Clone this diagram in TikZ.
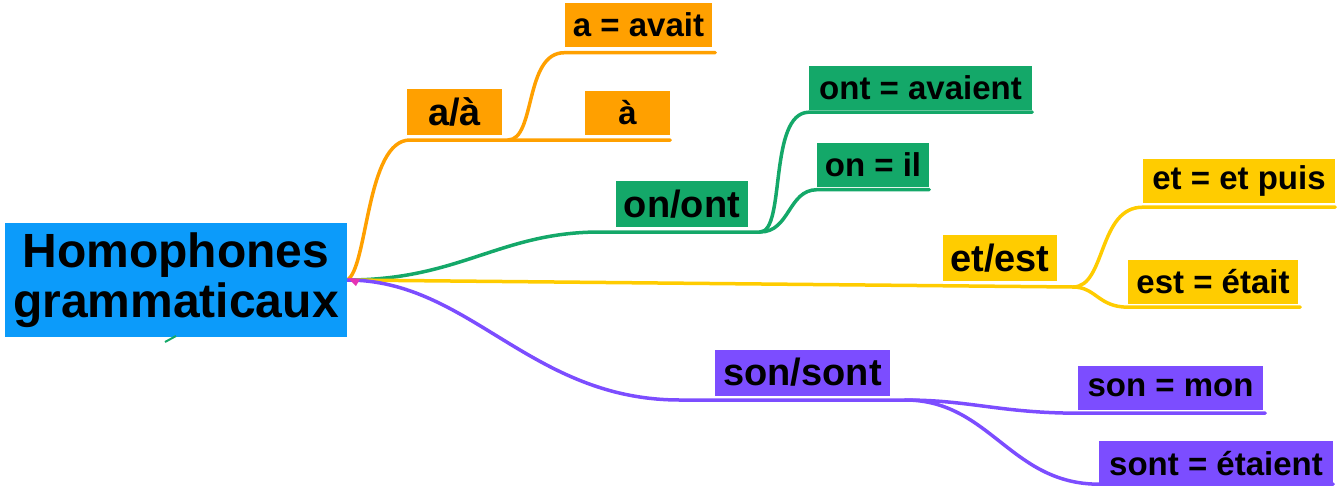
\documentclass[tikz,border=0pt]{standalone}
\usepackage{fontspec}
\setmainfont{Liberation Sans}
\usepackage{tikz}
\usetikzlibrary{backgrounds}
\usepackage{xcolor}
\definecolor{topicblue}{RGB}{12,155,250}
\definecolor{aorange}{RGB}{255,160,0}
\definecolor{ongreen}{RGB}{20,168,105}
\definecolor{etyellow}{RGB}{255,204,0}
\definecolor{sonpurple}{RGB}{124,77,255}
\definecolor{hubpink}{RGB}{230,50,180}

\begin{document}
\begin{tikzpicture}[x=1pt,y=-1pt]
\tikzset{
    topic/.style={%
        fill=topicblue,
        font=\bfseries\fontsize{48}{50}\selectfont,
        align=center,
        inner sep=0pt,
        minimum width=342pt,
        minimum height=114pt
        },
    sub/.style={%
        font=\bfseries\fontsize{38}{40}\selectfont,
        inner sep=0pt,
        minimum height=46pt
        },
    leaf/.style={%
        font=\bfseries\fontsize{33}{35}\selectfont,
        inner sep=0pt,
        minimum height=44pt
        },
    branch/.style={%
        line width=3.5pt,
        line cap=round
        },
}
\useasboundingbox (0,0) rectangle (1344,485);
%%%CENTRAL TOPIC
\node[topic] (root) at (176,280) {Homophones\\grammaticaux};
%%%A BRANCH
\node[sub, fill=aorange, minimum width=95pt] (aa) at (454.5,111.5) {a/à};
\node[leaf, fill=aorange, minimum width=147pt] (aavait) at (638.5,24.5) {a = avait};
\node[leaf, fill=aorange, minimum width=85pt] (agrave) at (627.5,113) {à};
%%%ON BRANCH
\node[sub, fill=ongreen, minimum width=132pt] (onont) at (682,204) {on/ont};
\node[leaf, fill=ongreen, minimum width=223pt] (ontav) at (920.5,88) {ont = avaient};
\node[leaf, fill=ongreen, minimum width=112pt] (onil) at (873,164.5) {on = il};
%%%ET BRANCH
\node[sub, fill=etyellow, minimum width=114pt] (etest) at (1000,258) {et/est};
\node[leaf, fill=etyellow, minimum width=192pt] (etpuis) at (1239,181) {et = et puis};
\node[leaf, fill=etyellow, minimum width=170pt] (estetait) at (1213,282) {est = était};
%%%SON BRANCH
\node[sub, fill=sonpurple, minimum width=175pt] (sonsont) at (802.5,372.5) {son/sont};
\node[leaf, fill=sonpurple, minimum width=185pt] (sonmon) at (1170.5,388) {son = mon};
\node[leaf, fill=sonpurple, minimum width=234pt, minimum height=45pt] (sontet) at (1216,463.5) {sont = étaient};
%%%JOINTS
\coordinate (aj) at (508,140);
\coordinate (gj) at (760,232);
\coordinate (yj) at (1073,287);
\coordinate (pj) at (905,400);
\begin{pgfonlayer}{background}
\draw[branch, aorange] (root.east) .. controls (368,268) and (366,140) .. (410,140) -- ([yshift=-5pt]agrave.south east);
\draw[branch, aorange] (aj) .. controls (536,140) and (524,52) .. ([yshift=-6pt]aavait.south west) -- ([yshift=-6pt,xshift=3pt]aavait.south east);
\draw[branch, ongreen] (root.east) .. controls (460,280) and (500,232) .. (600,232) -- (gj);
\draw[branch, ongreen] (gj) .. controls (786,232) and (768,113) .. ([yshift=-2pt]ontav.south west) -- ([yshift=-2pt]ontav.south east);
\draw[branch, ongreen] (gj) .. controls (790,232) and (788,190) .. ([yshift=-3pt]onil.south west) -- ([yshift=-3pt]onil.south east);
\draw[branch, etyellow] (root.east) -- (yj);
\draw[branch, etyellow] (yj) .. controls (1106,287) and (1098,207) .. ([yshift=-4pt]etpuis.south west) -- ([yshift=-4pt]etpuis.south east);
\draw[branch, etyellow] (yj) .. controls (1096,287) and (1098,307) .. ([yshift=-3pt]estetait.south west) -- ([yshift=-3pt,xshift=2pt]estetait.south east);
\draw[branch, sonpurple] (root.east) .. controls (470,280) and (530,400) .. (680,400) -- (pj);
\draw[branch, sonpurple] (pj) .. controls (970,400) and (1000,413) .. ([yshift=-3pt]sonmon.south west) -- ([yshift=-3pt,xshift=2pt]sonmon.south east);
\draw[branch, sonpurple] (pj) .. controls (990,400) and (1010,484) .. ([yshift=2pt]sontet.south west) -- ([yshift=2pt]sontet.south east);
\end{pgfonlayer}
%%%SMALL MARKS
\fill[hubpink] (348,278) -- (360,279) -- (356,286) -- cycle;
\draw[ongreen, line width=2pt] (165,342) -- (176,336);
\end{tikzpicture}
\end{document}
